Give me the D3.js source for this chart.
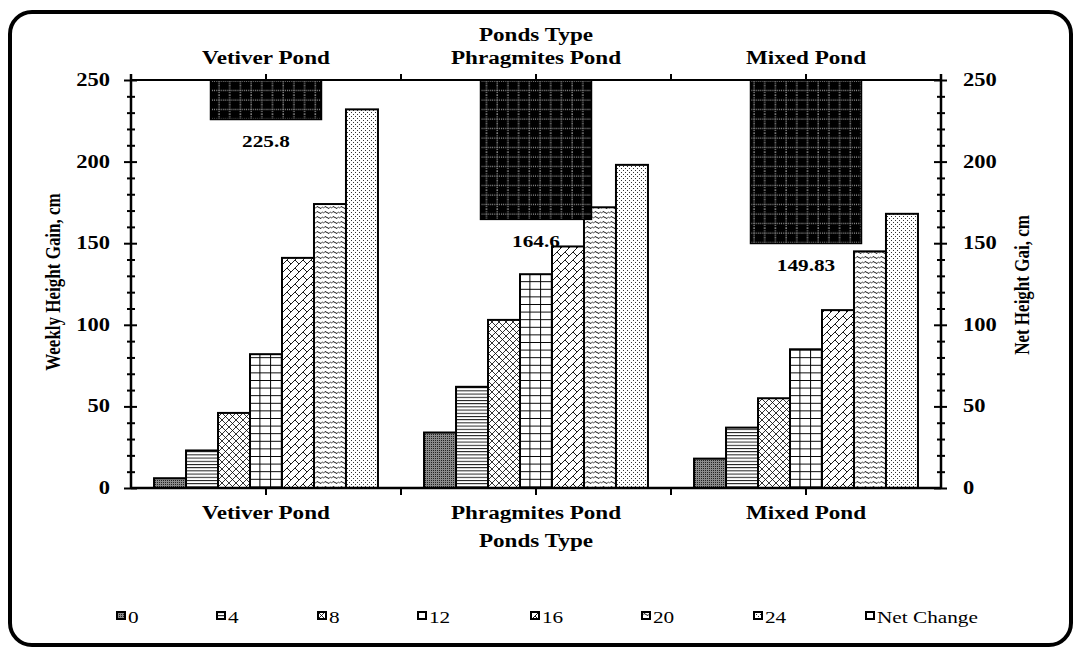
<!DOCTYPE html>
<html>
<head>
<meta charset="utf-8">
<script src="https://cdn.jsdelivr.net/npm/d3@7"></script>
<style>
  body { margin: 0; background: #fff; }
  svg { display: block; }
  text { font-family: "Liberation Serif", "Times New Roman", serif; fill: #000; }
</style>
</head>
<body>
<svg id="chart" width="1075" height="649"></svg>
<script>
const ponds = ["Vetiver Pond", "Phragmites Pond", "Mixed Pond"];
const weeks = ["0", "4", "8", "12", "16", "20", "24"];
const vetiver = [6, 23, 46, 82, 141, 174, 232];
const phragmites = [34, 62, 103, 131, 148, 172, 198];
const mixed = [18, 37, 55, 85, 109, 145, 168];
const netChange = [225.8, 164.6, 149.83];
const legendLabels = ["0", "4", "8", "12", "16", "20", "24", "Net Change"];
const yTicks = [0, 50, 100, 150, 200, 250];

const weekly = [vetiver, phragmites, mixed];
const SX = 1.25; // text in the original is stretched sideways

const svg = d3.select("#chart");
const defs = svg.append("defs");

// fill patterns, one per series
function pattern(id, w, h, bg, draw) {
  const p = defs.append("pattern")
    .attr("id", id)
    .attr("patternUnits", "userSpaceOnUse")
    .attr("width", w)
    .attr("height", h);
  p.append("rect").attr("width", w).attr("height", h).attr("fill", bg);
  draw(p);
}
pattern("p0", 2, 2, "#8a8a8a", (p) => {
  p.append("rect").attr("width", 1).attr("height", 1).attr("fill", "#222");
});
pattern("p4", 4, 3.2, "#fff", (p) => {
  p.append("line").attr("x1", 0).attr("x2", 4).attr("y1", 0.5).attr("y2", 0.5)
    .attr("stroke", "#000").attr("stroke-width", 0.9);
});
pattern("p8", 7, 7, "#fff", (p) => {
  p.append("path").attr("d", "M0,0L7,7M7,0L0,7")
    .attr("stroke", "#000").attr("stroke-width", 0.8);
});
pattern("p12", 10.7, 7.6, "#fff", (p) => {
  p.append("path").attr("d", "M0.5,0V7.6M0,0.5H10.7")
    .attr("stroke", "#000").attr("stroke-width", 1);
});
pattern("p16", 8, 8, "#fff", (p) => {
  p.append("path").attr("d", "M0,8L8,0M4,4L8,8M-1,1L1,-1M7,9L9,7")
    .attr("stroke", "#000").attr("stroke-width", 0.9);
});
pattern("p20", 8, 5, "#fff", (p) => {
  p.append("path").attr("d", "M0,3.5Q2,0 4,2.5T8,1.5")
    .attr("fill", "none").attr("stroke", "#000").attr("stroke-width", 0.9);
});
pattern("p24", 4, 4, "#fff", (p) => {
  p.append("rect").attr("width", 1).attr("height", 1).attr("fill", "#333");
  p.append("rect").attr("x", 2).attr("y", 2).attr("width", 1).attr("height", 1).attr("fill", "#333");
});
pattern("pNet", 10.7, 9.5, "#000", (p) => {
  p.append("path").attr("d", "M5,0V9.5M0,5H10.7")
    .attr("stroke", "#fff").attr("stroke-width", 0.8)
    .attr("stroke-dasharray", "1,1.2");
});
const fills = ["p0", "p4", "p8", "p12", "p16", "p20", "p24", "pNet"];

// text helper with sideways stretch
function txt(x, y, s, opts = {}) {
  const t = svg.append("text")
    .attr("transform", `translate(${x},${y}) scale(${SX},1)` + (opts.rotate ? ` rotate(${opts.rotate})` : ""))
    .attr("text-anchor", opts.anchor || "middle")
    .style("font-size", (opts.size || 18) + "px")
    .style("font-weight", opts.weight || "bold")
    .text(s);
  return t;
}

// frame
svg.append("rect")
  .attr("x", 10).attr("y", 12)
  .attr("width", 1061).attr("height", 633)
  .attr("rx", 22)
  .attr("fill", "none").attr("stroke", "#000").attr("stroke-width", 4);

const plotLeft = 131, plotRight = 941, plotTop = 80, plotBottom = 488;

const x = d3.scaleBand().domain(ponds).range([plotLeft, plotRight]);
const xs = d3.scaleBand().domain(weeks).range([0, x.bandwidth()])
  .paddingInner(0).paddingOuter(0.72);
const xNet = d3.scaleBand().domain(ponds).range([plotLeft, plotRight])
  .paddingInner(0.589).paddingOuter(0.2945);
const y = d3.scaleLinear().domain([0, 250]).range([plotBottom, plotTop]);
const yRight = d3.scaleLinear().domain([0, 250]).range([plotBottom, plotTop]);

// weekly bars
const groups = svg.append("g").selectAll("g")
  .data(ponds)
  .join("g")
  .attr("transform", (d) => `translate(${x(d)},0)`);

groups.selectAll("rect")
  .data((d, i) => weekly[i].map((v, j) => ({ week: weeks[j], v: v, j: j })))
  .join("rect")
  .attr("x", (d) => xs(d.week))
  .attr("width", xs.bandwidth())
  .attr("y", (d) => y(d.v))
  .attr("height", (d) => y(0) - y(d.v))
  .attr("fill", (d) => `url(#${fills[d.j]})`)
  .attr("stroke", "#000")
  .attr("stroke-width", 2);

// net change bars hang from the top of the secondary axis
svg.append("g").selectAll("rect")
  .data(netChange)
  .join("rect")
  .attr("x", (d, i) => xNet(ponds[i]))
  .attr("width", xNet.bandwidth())
  .attr("y", yRight(250))
  .attr("height", (d) => yRight(d) - yRight(250))
  .attr("fill", "url(#pNet)")
  .attr("stroke", "#000")
  .attr("stroke-width", 1.5);

netChange.forEach((d, i) => {
  txt(x(ponds[i]) + x.bandwidth() / 2, yRight(d) + 28, String(d), { size: 17 });
});

// axes
const axisLeft = svg.append("g").attr("transform", `translate(${plotLeft},0)`)
  .call(d3.axisLeft(y).tickValues(d3.range(0, 251, 10)).tickSize(0).tickFormat(""));
const axisRight = svg.append("g").attr("transform", `translate(${plotRight},0)`)
  .call(d3.axisRight(yRight).tickValues(d3.range(0, 251, 10)).tickSize(0).tickFormat(""));
[axisLeft, axisRight].forEach((a) => {
  a.select(".domain").attr("stroke", "#000").attr("stroke-width", 2.5).attr("d", `M0,${plotTop - 6}V${plotBottom + 1}`);
  a.selectAll(".tick line")
    .attr("x1", (d) => (d % 50 === 0 ? -7 : -4))
    .attr("x2", (d) => (d % 50 === 0 ? 6 : 4))
    .attr("stroke", "#000").attr("stroke-width", 2);
});

yTicks.forEach((v) => {
  txt(plotLeft - 21, y(v) + 6, String(v), { anchor: "end" });
  txt(plotRight + 22, yRight(v) + 6, String(v), { anchor: "start" });
});

// bottom and top category lines
const catTicks = [x(ponds[1]), x(ponds[2])].concat(ponds.map((p) => x(p) + x.bandwidth() / 2));
svg.append("line").attr("x1", plotLeft).attr("x2", plotRight).attr("y1", plotBottom).attr("y2", plotBottom)
  .attr("stroke", "#000").attr("stroke-width", 2.5);
svg.append("line").attr("x1", plotLeft).attr("x2", plotRight).attr("y1", plotTop).attr("y2", plotTop)
  .attr("stroke", "#000").attr("stroke-width", 2);
svg.append("g").selectAll("line").data(catTicks).join("line")
  .attr("x1", (d) => d).attr("x2", (d) => d)
  .attr("y1", plotBottom).attr("y2", plotBottom + 7)
  .attr("stroke", "#000").attr("stroke-width", 2);
svg.append("g").selectAll("line").data(catTicks).join("line")
  .attr("x1", (d) => d).attr("x2", (d) => d)
  .attr("y1", plotTop).attr("y2", plotTop - 6)
  .attr("stroke", "#000").attr("stroke-width", 2);

ponds.forEach((p) => {
  const cx = x(p) + x.bandwidth() / 2;
  txt(cx, 519, p, { size: 18.5 });
  txt(cx, 64, p, { size: 18.5 });
});
txt((plotLeft + plotRight) / 2, 547, "Ponds Type", { size: 18.5 });
txt((plotLeft + plotRight) / 2, 41, "Ponds Type", { size: 18.5 });

// axis titles
txt(60, 282, "Weekly Height Gain, cm", { rotate: -90, size: 17 });
txt(1029, 285, "Net Height Gai, cm", { rotate: -90, size: 17 });

// legend (the net change key is drawn as an open box in the original)
const legendX = [117, 217, 318, 418, 531, 642, 754, 866];
const legend = svg.append("g").selectAll("g")
  .data(legendLabels)
  .join("g")
  .attr("transform", (d, i) => `translate(${legendX[i]},612)`);
legend.append("rect")
  .attr("width", 8).attr("height", 7)
  .attr("fill", (d, i) => (i === legendLabels.length - 1 ? "#fff" : `url(#${fills[i]})`))
  .attr("stroke", "#000").attr("stroke-width", 2);
legendLabels.forEach((d, i) => {
  txt(legendX[i] + 11, 623, d, { anchor: "start", size: 17, weight: "normal" });
});
</script>
</body>
</html>
